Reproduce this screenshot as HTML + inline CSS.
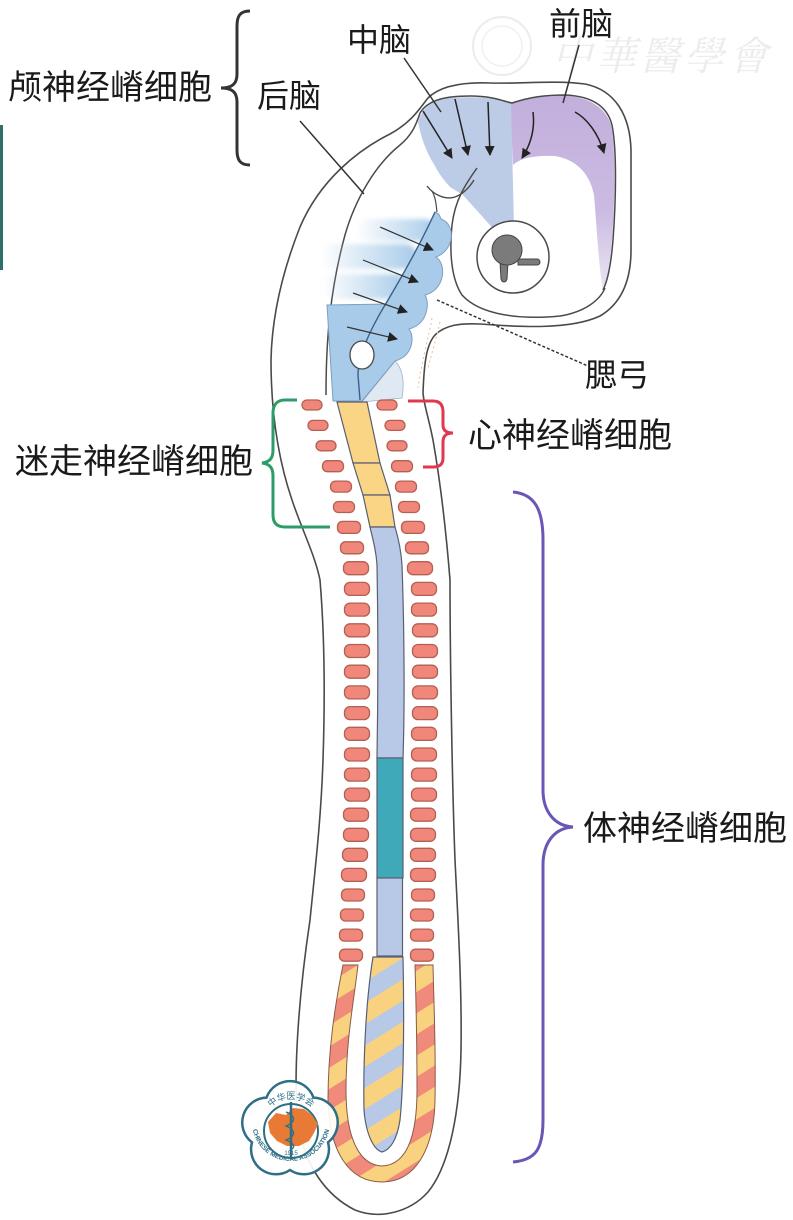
<!DOCTYPE html>
<html><head><meta charset="utf-8">
<style>
html,body{margin:0;padding:0;background:#fff;}
svg{display:block;}
.t{font-family:"Liberation Sans","Noto Sans CJK SC",sans-serif;fill:#1a1a1a;}
</style></head><body>
<svg width="793" height="1220" viewBox="0 0 793 1220" xmlns="http://www.w3.org/2000/svg">
<defs>
 <marker id="ah" viewBox="0 0 10 10" refX="9" refY="5" markerWidth="10" markerHeight="10" markerUnits="userSpaceOnUse" orient="auto"><path d="M0,0 L10,5 L0,10 z" fill="#222"/></marker>
 <linearGradient id="sg" x1="0" y1="0" x2="1" y2="0">
  <stop offset="0" stop-color="#a8cbe9" stop-opacity="0"/>
  <stop offset="0.55" stop-color="#a8cbe9" stop-opacity="0.55"/>
  <stop offset="1" stop-color="#a8cbe9" stop-opacity="1"/>
 </linearGradient>
 <linearGradient id="pg" x1="0" y1="0" x2="0" y2="1">
  <stop offset="0" stop-color="#c2afdc"/>
  <stop offset="0.6" stop-color="#cbbbe2"/>
  <stop offset="1" stop-color="#ebe5f3"/>
 </linearGradient>
 <filter id="bl" x="-10%" y="-30%" width="120%" height="160%"><feGaussianBlur stdDeviation="2.5"/></filter>
 <pattern id="st1" width="40" height="36" patternUnits="userSpaceOnUse" patternTransform="rotate(-32)">
  <rect width="40" height="18" fill="#f9d27f"/><rect y="18" width="40" height="18" fill="#f08a7a"/>
 </pattern>
 <pattern id="st2" width="40" height="36" patternUnits="userSpaceOnUse" patternTransform="rotate(-32)">
  <rect width="40" height="18" fill="#f9d27f"/><rect y="18" width="40" height="18" fill="#b7c9e7"/>
 </pattern>
 <path id="arcTop" d="M 262,1128 A 29 29 0 0 1 320,1128"/>
 <path id="arcBot" d="M 252,1122 A 39 39 0 0 0 330,1122"/>
</defs>

<!-- left edge strip -->
<rect x="0" y="125" width="3" height="145" fill="#2f6f6a"/>

<!-- watermark top -->
<circle cx="502" cy="46" r="29" fill="none" stroke="#ececec" stroke-width="2"/>
<circle cx="502" cy="46" r="20" fill="none" stroke="#f0f0f0" stroke-width="1.5"/>
<text x="552" y="70" font-size="40" font-style="italic" fill="#ececec" font-family="'Noto Serif CJK SC','Noto Sans CJK SC',serif" letter-spacing="4">中華醫學會</text>

<!-- body outline -->
<path d="M 423,393 C 424,365 426,345 435,335 C 445,325 460,323 480,324 C 520,327 570,330 600,316 C 622,303 631,280 631,250 L 631,150 C 630,115 615,90 585,84 C 555,80 520,84 490,83 C 462,82 440,86 428,98 C 420,108 412,122 390,134 C 358,150 320,180 300,227 C 285,265 272,310 271,360 C 271,400 275,450 292,500 C 302,530 315,555 320,580 C 325,640 325,700 323,760 C 321,820 315,870 310,920 C 298,1000 293,1080 298,1125 C 305,1165 325,1195 355,1210 C 380,1220 410,1212 428,1192 C 450,1165 460,1110 461,1050 C 462,990 458,920 455,860 C 452,780 450,650 450,580 C 446,530 440,480 433,440 C 428,415 424,405 423,393 Z" fill="#fff" stroke="#4a4a4a" stroke-width="1.6"/>

<!-- purple forebrain -->
<path d="M 510,103 C 525,98 540,95 560,95 C 585,96 605,105 611,125 C 616,150 615,200 612,240 C 610,265 607,280 603,290 C 599,270 597,230 594,195 C 590,175 578,160 555,156 C 535,155 520,158 513,165 Z" fill="url(#pg)"/>
<!-- midbrain wedge -->
<path d="M 418,122 C 422,108 432,100 450,98 C 475,96 497,98 511,102 L 514,228 L 497,233 L 463,195 L 450,187 C 442,178 438,172 435,166 C 428,155 422,142 418,122 Z" fill="#bccbe6"/>

<!-- neural tube inner line in head -->
<path d="M 326,395 C 326,340 330,290 345,235 C 355,200 375,165 400,145 C 412,135 416,125 420,113 C 428,100 445,96 470,96 C 495,96 505,102 512,103 C 530,97 545,95 565,95 C 590,96 607,105 612,125 C 617,150 616,200 613,240 C 611,265 608,280 603,290" fill="none" stroke="#4a4a4a" stroke-width="1.5"/>
<path d="M 477,168 C 465,185 455,200 452,225 C 449,255 452,280 462,295 C 480,315 520,320 560,316 C 585,312 600,300 605,288" fill="none" stroke="#4a4a4a" stroke-width="1.5"/>
<path d="M 427,186 C 434,195 445,200 455,197 C 463,194 469,188 474,180" fill="none" stroke="#4a4a4a" stroke-width="1.4"/>
<path d="M 432,191 C 436,198 436,205 437,212" fill="none" stroke="#4a4a4a" stroke-width="1.2"/>

<!-- eye -->
<circle cx="513" cy="257" r="36" fill="#fff" stroke="#4a4a4a" stroke-width="1.5"/>
<path d="M 500,262 L 501,279 C 502,283 506,283 507,279 L 508,262 Z" fill="#7b7b7b" stroke="#444" stroke-width="1"/>
<path d="M 518,259 L 537,259 C 541,259 541,265 537,265 L 518,265 Z" fill="#7b7b7b" stroke="#444" stroke-width="1"/>
<circle cx="507" cy="250" r="15" fill="#7b7b7b" stroke="#444" stroke-width="1"/>

<!-- arch streaks -->
<g filter="url(#bl)">
<rect x="356" y="219" width="80" height="22" rx="11" fill="url(#sg)"/>
<rect x="320" y="244" width="97" height="25" rx="12" fill="url(#sg)"/>
<rect x="322" y="274" width="85" height="25" rx="12" fill="url(#sg)"/>
</g>
<!-- light neck region -->
<path d="M 395,361 C 402,368 405,380 402,398 L 362,402 Z" fill="#dfe9f4" stroke="#9fb3c8" stroke-width="0.8"/>
<!-- arch blue -->
<path d="M 435,212 C 440,214 440,217 441,219 C 456,224 455,250 436,257 C 447,264 445,290 425,295 C 430,303 428,324 409,329 C 415,337 413,356 395,361 L 362,401 L 333,401 L 327,305 L 386,304 C 400,280 420,245 435,212 Z" fill="#a8cbe9" stroke="#7c9ec4" stroke-width="1"/>
<path d="M 435,212 C 420,245 400,280 385,305 C 370,330 358,355 358,375 L 360,400" fill="none" stroke="#3d5f8c" stroke-width="1.4"/>
<ellipse cx="362" cy="355" rx="12" ry="14" fill="#fff" stroke="#4a4a4a" stroke-width="1.3"/>
<!-- faint heart dashes -->
<path d="M 432,318 C 428,340 422,360 418,388" fill="none" stroke="#ebbc9c" stroke-width="1" stroke-dasharray="2 3"/>
<path d="M 440,322 C 436,340 432,352 428,368" fill="none" stroke="#ebbc9c" stroke-width="1" stroke-dasharray="2 3"/>

<!-- neural tube column -->
<g stroke="#5a5f70" stroke-width="1.2">
 <path d="M 337,402 L 367,402 L 380,463 L 353,463 Z" fill="#f9d585"/>
 <path d="M 353,463 L 380,463 L 390,495 L 363,495 Z" fill="#f9d585"/>
 <path d="M 363,495 L 390,495 L 395,527 L 370,527 Z" fill="#f9d585"/>
 <path d="M 370,527 L 395,527 C 399,540 401,550 402,565 C 404,620 405,700 403,758 L 377,758 C 378,700 378,620 377,565 C 376,550 373,540 370,527 Z" fill="#b7c9e7"/>
 <rect x="377" y="758" width="26" height="120" fill="#3fa9b9"/>
 <rect x="377" y="878" width="25.5" height="78" fill="#b7c9e7"/>
</g>

<!-- tail -->
<path d="M 343,965 L 358,965 C 354,1000 346,1040 346,1090 C 346,1140 360,1165 382,1166 C 405,1165 417,1140 417,1090 C 417,1040 416,1000 415,965 L 433,965 C 434,1010 436,1050 435,1100 C 434,1150 415,1182 382,1182 C 348,1182 329,1150 328,1100 C 328,1050 335,1005 343,965 Z" fill="url(#st1)" stroke="#8a5a4a" stroke-width="1"/>
<path d="M 373,957 L 403,957 C 404,1010 404,1080 400,1120 C 397,1140 390,1150 382,1152 C 374,1150 366,1135 364,1110 C 363,1060 366,1000 373,957 Z" fill="url(#st2)" stroke="#55607a" stroke-width="1.2"/>

<!-- somites -->
<g fill="#f1877a" stroke="#b26052" stroke-width="1.3">
<rect x="302" y="400" width="20" height="10" rx="5"/><rect x="377" y="400" width="20" height="10" rx="5"/>
<rect x="308" y="420.4" width="20" height="10" rx="5"/><rect x="385" y="420.4" width="20" height="10" rx="5"/>
<rect x="316" y="440.8" width="20" height="10" rx="5"/><rect x="387" y="440.8" width="20" height="10" rx="5"/>
<rect x="322.5" y="460.7" width="21" height="11" rx="5"/><rect x="391.5" y="460.7" width="21" height="11" rx="5"/>
<rect x="330.5" y="481.1" width="21" height="11" rx="5"/><rect x="395.5" y="481.1" width="21" height="11" rx="5"/>
<rect x="333.5" y="501.5" width="21" height="11" rx="5"/><rect x="398.5" y="501.5" width="21" height="11" rx="5"/>
<rect x="337.5" y="521.4" width="23" height="12" rx="5"/><rect x="401.5" y="521.4" width="23" height="12" rx="5"/>
<rect x="340.5" y="541.8" width="23" height="12" rx="5"/><rect x="405.5" y="541.8" width="23" height="12" rx="5"/>
<rect x="343.5" y="561.7" width="25" height="13" rx="5.5"/><rect x="407.5" y="561.7" width="25" height="13" rx="5.5"/>
<rect x="344.5" y="582.4" width="25" height="13" rx="5.5"/><rect x="411.5" y="582.4" width="25" height="13" rx="5.5"/>
<rect x="344.5" y="603.1" width="25" height="13" rx="5.5"/><rect x="411.5" y="603.1" width="25" height="13" rx="5.5"/>
<rect x="344.5" y="623.8" width="25" height="13" rx="5.5"/><rect x="412.5" y="623.8" width="25" height="13" rx="5.5"/>
<rect x="344.5" y="644.5" width="25" height="13" rx="5.5"/><rect x="412.5" y="644.5" width="25" height="13" rx="5.5"/>
<rect x="344.5" y="665.2" width="25" height="13" rx="5.5"/><rect x="412.5" y="665.2" width="25" height="13" rx="5.5"/>
<rect x="344.5" y="685.9" width="25" height="13" rx="5.5"/><rect x="412.5" y="685.9" width="25" height="13" rx="5.5"/>
<rect x="344.5" y="706.6" width="25" height="13" rx="5.5"/><rect x="412.5" y="706.6" width="25" height="13" rx="5.5"/>
<rect x="344.5" y="727.3" width="25" height="13" rx="5.5"/><rect x="411.5" y="727.3" width="25" height="13" rx="5.5"/>
<rect x="344.5" y="748" width="25" height="13" rx="5.5"/><rect x="411.5" y="748" width="25" height="13" rx="5.5"/>
<rect x="344.5" y="768.1" width="25" height="13" rx="5.5"/><rect x="411.5" y="768.1" width="25" height="13" rx="5.5"/>
<rect x="344.5" y="788.1" width="25" height="13" rx="5.5"/><rect x="411.5" y="788.1" width="25" height="13" rx="5.5"/>
<rect x="343.5" y="808.2" width="25" height="13" rx="5.5"/><rect x="410.5" y="808.2" width="25" height="13" rx="5.5"/>
<rect x="343.5" y="828.3" width="25" height="13" rx="5.5"/><rect x="410.5" y="828.3" width="25" height="13" rx="5.5"/>
<rect x="342.5" y="848.3" width="25" height="13" rx="5.5"/><rect x="410.5" y="848.3" width="25" height="13" rx="5.5"/>
<rect x="341.5" y="868.4" width="25" height="13" rx="5.5"/><rect x="410.5" y="868.4" width="25" height="13" rx="5.5"/>
<rect x="341.5" y="889" width="23" height="12" rx="5"/><rect x="411.5" y="889" width="23" height="12" rx="5"/>
<rect x="340.5" y="909" width="23" height="12" rx="5"/><rect x="410.5" y="909" width="23" height="12" rx="5"/>
<rect x="339.5" y="929.1" width="23" height="12" rx="5"/><rect x="410.5" y="929.1" width="23" height="12" rx="5"/>
<rect x="339.5" y="949.2" width="23" height="12" rx="5"/><rect x="410.5" y="949.2" width="23" height="12" rx="5"/>
</g>

<!-- arrows -->
<g stroke="#222" stroke-width="1.5" fill="none" marker-end="url(#ah)">
 <line x1="423" y1="111" x2="452" y2="158"/>
 <line x1="455" y1="99" x2="468" y2="155"/>
 <line x1="488" y1="102" x2="490" y2="155"/>
 <path d="M 533,112 C 535,128 531,144 522,158"/>
 <path d="M 575,112 C 586,118 598,132 604,153"/>
</g>
<g stroke="#333" stroke-width="1.2" fill="none" marker-end="url(#ah)">
 <line x1="380" y1="227" x2="433" y2="250"/>
 <line x1="363" y1="260" x2="418" y2="282"/>
 <line x1="353" y1="293" x2="407" y2="312"/>
 <line x1="347" y1="327" x2="397" y2="339"/>
</g>

<!-- leader lines -->
<g stroke="#333" stroke-width="1.5" fill="none">
 <line x1="404" y1="58" x2="441" y2="112"/>
 <line x1="579" y1="45" x2="563" y2="103"/>
 <line x1="300" y1="121" x2="364" y2="194"/>
 <line x1="437" y1="300" x2="588" y2="366" stroke-dasharray="3 2"/>
</g>

<!-- brackets -->
<path d="M250,11 C240,11 237,16 237,26 L237,74 C237,84 232,88 221,88 C232,88 237,92 237,102 L237,150 C237,160 240,165 250,165" fill="none" stroke="#333" stroke-width="3"/>
<path d="M297,400 L285,400 C277,400 273,405 273,413 L273,450 C273,458 270,462 262,463 C270,464 273,468 273,476 L273,515 C273,523 277,527 285,527 L330,527" fill="none" stroke="#2d9c68" stroke-width="3"/>
<path d="M408,401 L433,401 C440,401 443,405 443,412 L443,425 C443,430 446,433 453,433 C446,433 443,436 443,442 L443,458 C443,464 440,467 433,467 L423,467" fill="none" stroke="#e0384f" stroke-width="3"/>
<path d="M513,492 C535,494 543,510 543,540 L543,790 C543,812 555,826 573,827 C555,828 543,842 543,865 L543,1120 C543,1150 535,1160 513,1162" fill="none" stroke="#6b55b5" stroke-width="3"/>

<!-- labels -->
<text class="t" x="8" y="99" font-size="34">颅神经嵴细胞</text>
<text class="t" x="347" y="51" font-size="32">中脑</text>
<text class="t" x="549" y="35" font-size="32">前脑</text>
<text class="t" x="257" y="107" font-size="32">后脑</text>
<text class="t" x="585" y="386" font-size="32">腮弓</text>
<text class="t" x="468" y="447" font-size="34">心神经嵴细胞</text>
<text class="t" x="15" y="473" font-size="34">迷走神经嵴细胞</text>
<text class="t" x="583" y="840" font-size="34">体神经嵴细胞</text>

<!-- bottom logo -->
<g>
 <path d="M313.5,1097.6 A25,25 0 0 1 328,1142.4 A25,25 0 0 1 290,1170 A25,25 0 0 1 252,1142.4 A25,25 0 0 1 266.5,1097.6 A25,25 0 0 1 313.5,1097.6 Z" fill="#fff" fill-opacity="0.92" stroke="#2e6f86" stroke-width="2.5"/>
 <circle cx="291" cy="1131" r="27" fill="none" stroke="#2e6f86" stroke-width="2"/>
 <path d="M268,1122 L276,1113 L286,1115 L293,1108 L304,1109 L312,1115 L318,1124 L314,1133 L309,1141 L299,1146 L287,1146 L277,1141 L270,1133 Z" fill="#e97a35"/>
 <line x1="291" y1="1102" x2="291" y2="1158" stroke="#2e6f86" stroke-width="2.5"/>
 <path d="M286,1112 C296,1116 296,1122 286,1126 C296,1130 296,1136 286,1140 C296,1144 295,1148 290,1150" fill="none" stroke="#2e6f86" stroke-width="1.3"/>
 <text x="291" y="1155" font-size="6" text-anchor="middle" fill="#2e6f86" font-family="'Liberation Sans',sans-serif">1915</text>
 <text font-size="9" fill="#2e6f86" font-family="'Liberation Sans','Noto Sans CJK SC',sans-serif"><textPath href="#arcTop" startOffset="50%" text-anchor="middle">中华医学会</textPath></text>
 <text font-size="6.5" font-weight="bold" fill="#2e6f86" font-family="'Liberation Sans',sans-serif"><textPath href="#arcBot" startOffset="50%" text-anchor="middle">CHINESE MEDICAL ASSOCIATION</textPath></text>
</g>
</svg>
</body></html>
